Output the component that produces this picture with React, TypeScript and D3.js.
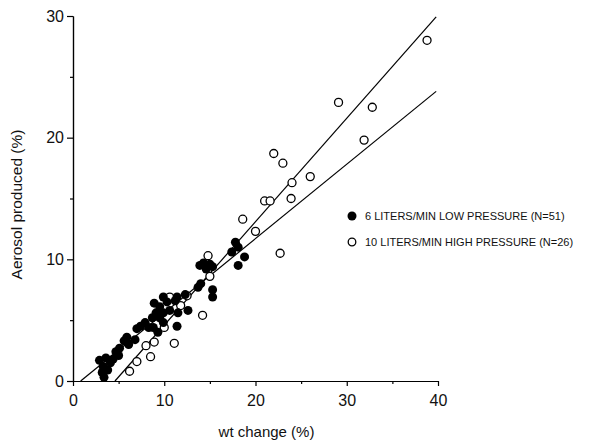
import { useEffect, useRef } from 'react';
import * as d3 from 'd3';

// 6 L/min low pressure (filled)
const lowWt = [2.9, 3.3, 3.2, 3.4, 3.6, 4.1, 3.8, 4.4, 4.7, 5.1, 5.0, 5.6, 5.9, 6.1, 6.8, 7.0, 7.4, 7.9, 8.3, 8.7, 8.8, 8.9, 9.1, 9.3, 9.5, 9.5, 9.9, 9.9, 9.9, 10.3, 10.6, 11.2, 11.4, 11.5, 11.4, 12.3, 12.6, 13.7, 14.0, 13.9, 14.3, 15.0, 15.3, 15.3, 15.3, 17.4, 17.8, 18.1, 18.1, 18.8, 14.6];
const lowAerosol = [1.7, 1.2, 0.7, 0.3, 1.9, 1.5, 0.9, 1.8, 2.4, 2.7, 2.1, 3.3, 3.6, 3.0, 3.4, 4.3, 4.5, 4.8, 4.4, 5.2, 4.4, 6.4, 5.6, 4.0, 6.1, 5.2, 6.9, 5.6, 4.8, 6.5, 5.8, 6.6, 6.9, 5.6, 4.5, 7.1, 5.8, 7.7, 8.0, 9.5, 9.7, 9.6, 9.4, 7.5, 6.9, 10.6, 11.4, 11.0, 9.5, 10.2, 9.2];

// 10 L/min high pressure (open)
const highWt = [38.8, 29.1, 32.8, 31.9, 23.0, 24.0, 26.0, 23.9, 22.0, 21.0, 21.6, 18.6, 20.0, 22.7, 14.8, 15.0, 10.6, 12.5, 14.2, 10.0, 11.8, 8.9, 8.0, 11.1, 8.5, 7.0, 6.2];
const highAerosol = [28.0, 22.9, 22.5, 19.8, 17.9, 16.3, 16.8, 15.0, 18.7, 14.8, 14.8, 13.3, 12.3, 10.5, 10.3, 8.6, 6.9, 7.0, 5.4, 4.4, 6.2, 3.2, 2.9, 3.1, 2.0, 1.6, 0.8];

// regression lines
const lowFit = { slope: 0.611, intercept: -0.513 };
const highFit = { slope: 0.85, intercept: -3.91 };

const xTicks = [0, 10, 20, 30, 40];
const xMinor = [5, 15, 25, 35];
const yTicks = [0, 10, 20, 30];
const yMinor = [5, 15, 25];

const legendLabels = ['6 LITERS/MIN LOW PRESSURE (N=51)', '10 LITERS/MIN HIGH PRESSURE (N=26)'];

const FONT = '"Liberation Sans", Arial, Helvetica, sans-serif';

const App = () => {
  const svgRef = useRef<SVGSVGElement>(null);

  useEffect(() => {
    const svg = d3.select(svgRef.current);
    svg.selectAll('*').remove();

    const x = d3.scaleLinear().domain([0, 40]).range([73, 438]);
    const y = d3.scaleLinear().domain([0, 30]).range([381, 16]);

    const styleAxis = (g: any) => {
      g.attr('font-family', FONT).attr('font-size', 16);
      g.selectAll('path, line').attr('stroke', '#000').attr('stroke-width', 1.2);
      g.selectAll('text').attr('fill', '#111');
    };

    // axes
    svg.append('g')
      .attr('transform', `translate(0,${y(0)})`)
      .call(d3.axisBottom(x).tickValues(xTicks).tickFormat(d3.format('d')).tickSize(5).tickSizeOuter(0).tickPadding(9))
      .call(styleAxis);
    svg.append('g')
      .attr('transform', `translate(0,${y(0)})`)
      .call(d3.axisBottom(x).tickValues(xMinor).tickFormat(() => '').tickSize(3).tickSizeOuter(0))
      .call(styleAxis);
    svg.append('g')
      .attr('transform', `translate(${x(0)},0)`)
      .call(d3.axisLeft(y).tickValues(yTicks).tickFormat(d3.format('d')).tickSize(6).tickSizeOuter(0).tickPadding(3))
      .call(styleAxis);
    svg.append('g')
      .attr('transform', `translate(${x(0)},0)`)
      .call(d3.axisLeft(y).tickValues(yMinor).tickFormat(() => '').tickSize(3).tickSizeOuter(0))
      .call(styleAxis);

    // axis titles
    svg.append('text')
      .attr('x', x(20) + 11)
      .attr('y', 437)
      .attr('text-anchor', 'middle')
      .attr('font-family', FONT)
      .attr('font-size', 15)
      .attr('fill', '#111')
      .text('wt change (%)');
    svg.append('text')
      .attr('transform', `translate(22,${y(15) + 6}) rotate(-90)`)
      .attr('text-anchor', 'middle')
      .attr('font-family', FONT)
      .attr('font-size', 15.5)
      .attr('fill', '#111')
      .text('Aerosol produced (%)');

    // fit lines
    [lowFit, highFit].forEach(fit => {
      const x0 = -fit.intercept / fit.slope;
      const x1 = Math.min(39.8, (30 - fit.intercept) / fit.slope);
      const pts: [number, number][] = [x0, x1].map(v => [v, fit.slope * v + fit.intercept]);
      svg.append('path')
        .attr('d', d3.line<[number, number]>().x(d => x(d[0])).y(d => y(d[1]))(pts))
        .attr('fill', 'none')
        .attr('stroke', '#000')
        .attr('stroke-width', 1.2);
    });

    // points
    svg.append('g')
      .selectAll('circle')
      .data(highWt.map((w, i) => [w, highAerosol[i]]))
      .enter()
      .append('circle')
      .attr('cx', d => x(d[0]))
      .attr('cy', d => y(d[1]))
      .attr('r', 4)
      .attr('fill', '#fff')
      .attr('stroke', '#000')
      .attr('stroke-width', 1.3);
    svg.append('g')
      .selectAll('circle')
      .data(lowWt.map((w, i) => [w, lowAerosol[i]]))
      .enter()
      .append('circle')
      .attr('cx', d => x(d[0]))
      .attr('cy', d => y(d[1]))
      .attr('r', 4.5)
      .attr('fill', '#000');

    // legend
    const legend = svg.append('g').attr('transform', 'translate(352,216)');
    legendLabels.forEach((label, i) => {
      const row = legend.append('g').attr('transform', `translate(0,${i * 26})`);
      row.append('circle')
        .attr('r', i === 0 ? 4.5 : 3.8)
        .attr('fill', i === 0 ? '#000' : '#fff')
        .attr('stroke', '#000')
        .attr('stroke-width', i === 0 ? 0 : 1.3);
      row.append('text')
        .attr('x', 13)
        .attr('y', 4)
        .attr('font-family', FONT)
        .attr('font-size', 11)
        .attr('fill', '#111')
        .text(label);
    });
  }, []);

  return (
    <svg
      ref={svgRef}
      width={614}
      height={441}
      style={{ position: 'absolute', left: 0, top: 0, background: '#fff' }}
    />
  );
};

export default App;
